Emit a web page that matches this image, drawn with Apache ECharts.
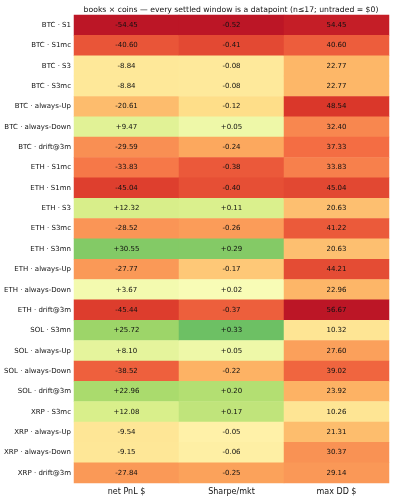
<!DOCTYPE html>
<html>
<head>
<meta charset="utf-8">
<title>books x coins</title>
<script src="https://cdn.jsdelivr.net/npm/echarts@6/dist/echarts.min.js"></script>
<style>
html, body { margin: 0; padding: 0; background: #fff; }
#main { width: 395px; height: 500px; }
</style>
</head>
<body>
<div id="main"></div>
<script>
// 行标签（book · coin）
var rows = [
  'BTC · S1', 'BTC · S1mc', 'BTC · S3', 'BTC · S3mc', 'BTC · always-Up', 'BTC · always-Down', 'BTC · drift@3m',
  'ETH · S1mc', 'ETH · S1mn', 'ETH · S3', 'ETH · S3mc', 'ETH · S3mn', 'ETH · always-Up', 'ETH · always-Down', 'ETH · drift@3m',
  'SOL · S3mn', 'SOL · always-Up', 'SOL · always-Down', 'SOL · drift@3m',
  'XRP · S3mc', 'XRP · always-Up', 'XRP · always-Down', 'XRP · drift@3m'
];
var columns = ['net PnL $', 'Sharpe/mkt', 'max DD $'];

// 每列的数据
var netPnl = [-54.45, -40.60, -8.84, -8.84, -20.61, 9.47, -29.59,
  -33.83, -45.04, 12.32, -28.52, 30.55, -27.77, 3.67, -45.44,
  25.72, 8.10, -38.52, 22.96,
  12.08, -9.54, -9.15, -27.84];
var sharpe = [-0.52, -0.41, -0.08, -0.08, -0.12, 0.05, -0.24,
  -0.38, -0.40, 0.11, -0.26, 0.29, -0.17, 0.02, -0.37,
  0.33, 0.05, -0.22, 0.20,
  0.17, -0.05, -0.06, -0.25];
var maxDD = [54.45, 40.60, 22.77, 22.77, 48.54, 32.40, 37.33,
  33.83, 45.04, 20.63, 41.22, 20.63, 44.21, 22.96, 56.67,
  10.32, 27.60, 39.02, 23.92,
  10.26, 21.31, 30.37, 29.14];

// RdYlGn
var rdylgn = ['#a50026', '#d73027', '#f46d43', '#fdae61', '#fee08b', '#ffffbf',
  '#d9ef8b', '#a6d96a', '#66bd63', '#1a9850', '#006837'];

function toCells(col, arr) {
  var out = [];
  for (var i = 0; i < arr.length; i++) {
    out.push([col, i, arr[i]]);
  }
  return out;
}
// 色阶范围：对称，留一点余量
function absMax(arr) {
  var m = 0;
  arr.forEach(function (v) { m = Math.max(m, Math.abs(v)); });
  return m * 1.1;
}

var font = 'DejaVu Sans';
var pnlMax = absMax(netPnl), shMax = absMax(sharpe), ddMax = absMax(maxDD);

function cellLabel(fmt) {
  return {
    show: true,
    color: '#111',
    fontSize: 7,
    fontFamily: font,
    formatter: function (p) { return fmt(p.value[2]); }
  };
}
function signed(d) {
  return function (v) { return (v > 0 ? '+' : '') + v.toFixed(d); };
}

var myChart = echarts.init(document.getElementById('main'));

var option = {
  animation: false,
  title: {
    text: 'books × coins — every settled window is a datapoint (n≤17; untraded = $0)',
    left: 226,
    textAlign: 'center',
    top: 1,
    textStyle: { fontSize: 7.7, fontWeight: 'normal', color: '#111', fontFamily: font }
  },
  grid: { left: 74, right: 6, top: 15, bottom: 17 },
  xAxis: {
    type: 'category',
    data: columns,
    axisLine: { show: false },
    axisTick: { show: false },
    axisLabel: { fontSize: 8, color: '#111', fontFamily: font, margin: 5 },
    splitArea: { show: false }
  },
  yAxis: {
    type: 'category',
    data: rows,
    inverse: true,
    axisLine: { show: false },
    axisTick: { show: false },
    axisLabel: { fontSize: 7, color: '#111', fontFamily: font, margin: 3 }
  },
  visualMap: [
    { show: false, seriesIndex: 0, min: -pnlMax, max: pnlMax, inRange: { color: rdylgn } },
    { show: false, seriesIndex: 1, min: -shMax, max: shMax, inRange: { color: rdylgn } },
    // 回撤越大越红
    { show: false, seriesIndex: 2, min: -ddMax, max: ddMax, inRange: { color: rdylgn.slice().reverse() } }
  ],
  series: [
    { type: 'heatmap', data: toCells(0, netPnl), label: cellLabel(signed(2)), emphasis: { disabled: true } },
    { type: 'heatmap', data: toCells(1, sharpe), label: cellLabel(signed(2)), emphasis: { disabled: true } },
    { type: 'heatmap', data: toCells(2, maxDD), label: cellLabel(function (v) { return v.toFixed(2); }), emphasis: { disabled: true } }
  ]
};

myChart.setOption(option);
</script>
</body>
</html>
